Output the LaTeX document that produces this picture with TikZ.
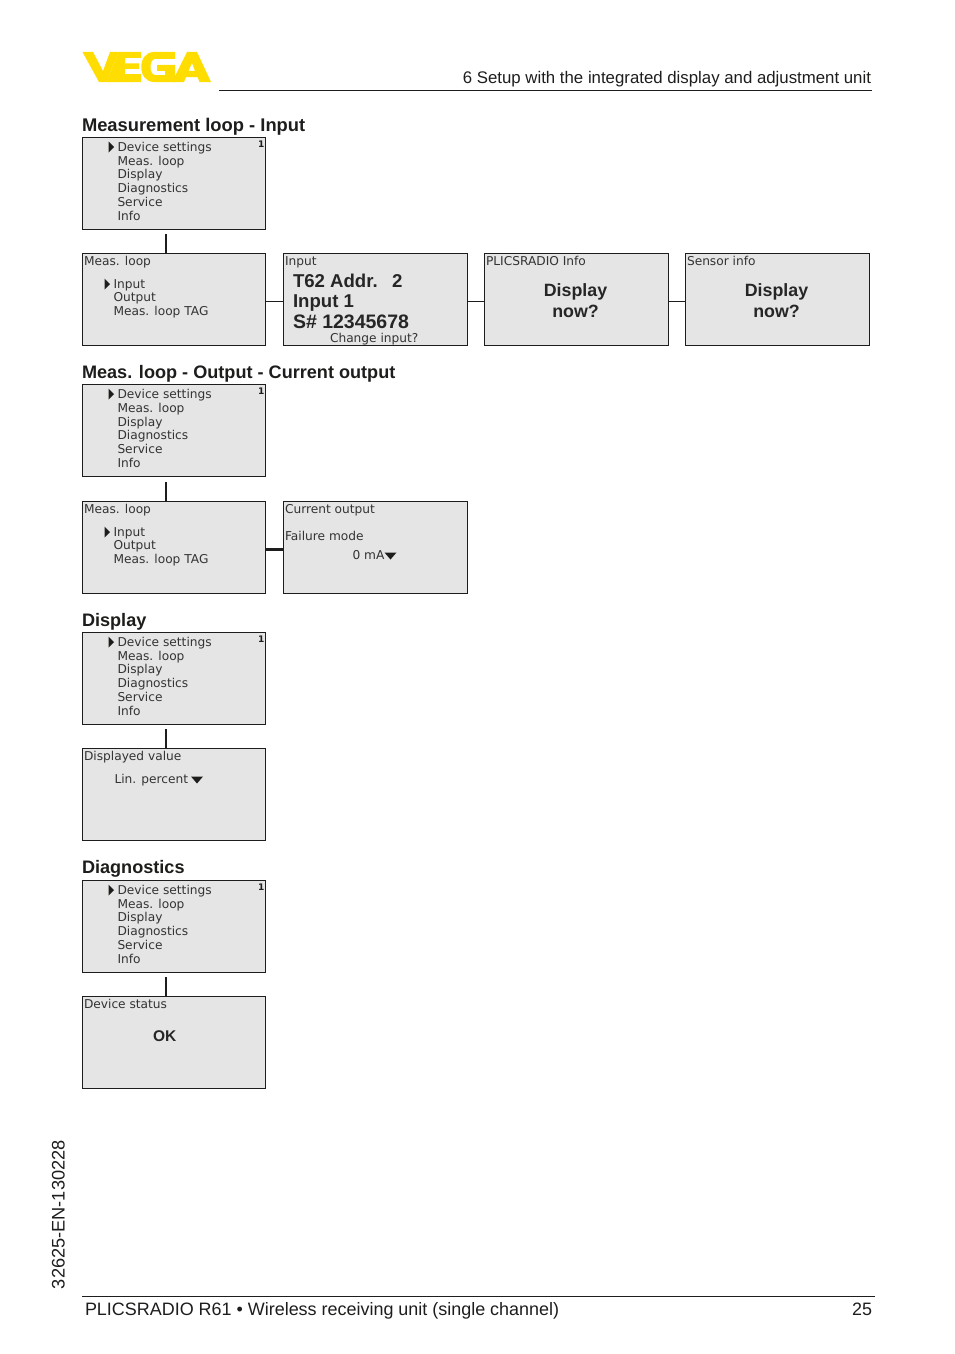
\documentclass[tikz,border=0pt]{standalone}
\usepackage{fontspec}
\setmainfont{Liberation Sans}
\newfontfamily\lcd{DejaVu Sans}
\definecolor{lcdgray}{HTML}{E5E5E5}
\definecolor{ink}{HTML}{1D1D1B}
\definecolor{vegay}{HTML}{FFDD00}
\tikzset{
 x=1pt,y=-1pt,
 panel/.style={draw=ink,line width=1.3pt,fill=lcdgray,minimum width=183pt,minimum height=92pt,inner sep=0pt,outer sep=0pt,anchor=north west},
 wide/.style={minimum width=184pt},
 txt/.style={inner sep=0pt,outer sep=0pt,anchor=base west,text=ink},
 small/.style={txt,font=\lcd\fontsize{12.2}{14}\selectfont,text=black!80},
 big/.style={txt,font=\bfseries\fontsize{18.6}{20}\selectfont,text=black!85},
 head/.style={txt,font=\bfseries\fontsize{18.1}{22}\selectfont},
 page/.style={txt,font=\fontsize{16.8}{21}\selectfont},
 foot/.style={txt,font=\fontsize{17.95}{21}\selectfont},
 link/.style={draw=ink,line width=1.8pt},
 rulel/.style={draw=ink,line width=0.9pt},
}
% main menu panel: name, top y
\newcommand{\mainmenu}[2]{%
 \node[panel] (#1) at (82.5,#2) {};
 \node[small] (#1a) at (117.5,#2+14) {Device settings};
 \node[small] (#1b) at (117.5,#2+27.7) {Meas. loop};
 \node[small] (#1c) at (117.5,#2+41.4) {Display};
 \node[small] (#1d) at (117.5,#2+55.1) {Diagnostics};
 \node[small] (#1e) at (117.5,#2+68.8) {Service};
 \node[small] (#1f) at (117.5,#2+82.5) {Info};
 \node[txt,font=\lcd\bfseries\fontsize{9}{10}\selectfont] (#1n) at (258,#2+9.5) {1};
 \fill[ink] (108.5,#2+4) -- (114,#2+9.5) -- (108.5,#2+15) -- cycle;
}
% measurement loop panel
\newcommand{\looppanel}[2]{%
 \node[panel] (#1) at (82.5,#2) {};
 \node[small] (#1a) at (84,#2+11.5) {Meas. loop};
 \node[small] (#1b) at (113.5,#2+34.5) {Input};
 \node[small] (#1c) at (113.5,#2+48.2) {Output};
 \node[small] (#1d) at (113.5,#2+61.9) {Meas. loop TAG};
 \fill[ink] (104.5,#2+25) -- (110,#2+30.5) -- (104.5,#2+36) -- cycle;
}
\begin{document}
\begin{tikzpicture}
\useasboundingbox (0,0) rectangle (954,1354);
% logo
\fill[vegay] (82.5,52) -- (93,52) -- (103,71) -- (110,52) -- (119,52) -- (106,82) -- (99,82) -- cycle;
\fill[vegay] (119,52) -- (141,52) -- (141,58) -- (125,58) -- (125,63.5) -- (139,63.5) -- (139,69) -- (125,69) -- (125,74) -- (141,74) -- (141,82) -- (106,82) -- cycle;
\fill[vegay] (175,52) -- (175,59) -- (155,59) .. controls (149,59) and (149,75) .. (155,75) -- (165,75) -- (165,71) -- (157,71) -- (157,65) -- (175,65) -- (175,82) -- (154,82) .. controls (137,82) and (137,52) .. (154,52) -- cycle;
\fill[vegay,even odd rule] (172,82) -- (187,52) -- (197,52) -- (211,82) -- (199.5,82) -- (197.5,77) -- (186,77) -- (184,82) -- cycle (188.5,71) -- (195,71) -- (192,63) -- cycle;
% header
\coordinate (hl) at (219,90.5);
\coordinate (hr) at (872,90.5);
\draw[rulel] (hl) -- (hr);
\node[page,anchor=base east] (htext) at (871,83) {6 Setup with the integrated display and adjustment unit};
% section 1
\node[head,font=\bfseries\fontsize{18.35}{22}\selectfont] (h1) at (82,131) {Measurement loop - Input};
\mainmenu{ma}{137.5}
\looppanel{la}{253.5}
\node[panel,wide] (inp) at (283.5,253.5) {};
\node[small] (inpa) at (285,265) {Input};
\node[big] (inpb) at (293,287) {T62 Addr.};
\node[big] (inpc) at (392,287) {2};
\node[big] (inpd) at (293,307.5) {Input 1};
\node[big,font=\bfseries\fontsize{19.5}{20}\selectfont] (inpe) at (293,328) {S\# 12345678};
\node[small] (inpf) at (330,342) {Change input?};
\node[panel,wide] (pl) at (484.5,253.5) {};
\node[small] (pla) at (486,265) {PLICSRADIO Info};
\node[big,anchor=base,font=\bfseries\fontsize{17.8}{20}\selectfont] (plb) at (575.5,296) {Display};
\node[big,anchor=base,font=\bfseries\fontsize{17.8}{20}\selectfont] (plc) at (575.5,317) {now?};
\node[panel,wide] (se) at (685.5,253.5) {};
\node[small] (sea) at (687,265) {Sensor info};
\node[big,anchor=base,font=\bfseries\fontsize{17.8}{20}\selectfont] (seb) at (776.5,296) {Display};
\node[big,anchor=base,font=\bfseries\fontsize{17.8}{20}\selectfont] (sec) at (776.5,317) {now?};
\coordinate (j1) at (166,234);
\draw[link] (j1) -- (j1 |- la.north);
\draw[link] ([yshift=-2pt]la.east) -- ([yshift=-2pt]inp.west);
\draw[link] ([yshift=-2pt]inp.east) -- ([yshift=-2pt]pl.west);
\draw[link] ([yshift=-2pt]pl.east) -- ([yshift=-2pt]se.west);
% section 2
\node[head] (h2) at (82,378) {Meas. loop - Output - Current output};
\mainmenu{mb}{384.6}
\looppanel{lb}{501.5}
\node[panel,wide] (cu) at (283.5,501.5) {};
\node[small] (cua) at (285,513) {Current output};
\node[small] (cub) at (285,540) {Failure mode};
\node[small] (cuc) at (352.5,559) {0 mA};
\fill[ink] (384.5,552.5) -- (396.5,552.5) -- (390.5,559.5) -- cycle;
\coordinate (j2) at (166,482);
\draw[link] (j2) -- (j2 |- lb.north);
\draw[link,line width=2.4pt] ([yshift=-2pt]lb.east) -- ([yshift=-2pt]cu.west);
% section 3
\node[head] (h3) at (82,626) {Display};
\mainmenu{mc}{632.5}
\node[panel] (dv) at (82.5,748.5) {};
\node[small] (dva) at (84,760) {Displayed value};
\node[small] (dvb) at (114.5,783) {Lin. percent};
\fill[ink] (191,776.5) -- (203,776.5) -- (197,783.5) -- cycle;
\coordinate (j3) at (166,729);
\draw[link] (j3) -- (j3 |- dv.north);
% section 4
\node[head] (h4) at (82,873) {Diagnostics};
\mainmenu{md}{880.5}
\node[panel] (ds) at (82.5,996.5) {};
\node[small] (dsa) at (84,1008) {Device status};
\node[big,font=\bfseries\fontsize{15.5}{18}\selectfont] (dsb) at (153,1041) {OK};
\coordinate (j4) at (166,977);
\draw[link] (j4) -- (j4 |- ds.north);
% footer
\coordinate (fl) at (82,1296.5);
\coordinate (fr) at (875,1296.5);
\draw[rulel] (fl) -- (fr);
\node[foot] (ft) at (85,1315) {PLICSRADIO R61 • Wireless receiving unit (single channel)};
\node[page,anchor=base east,font=\fontsize{17.95}{21}\selectfont] (fp) at (872,1315) {25};
\node[foot,rotate=90,font=\fontsize{18.2}{21}\selectfont] (doc) at (64.5,1289) {32625-EN-130228};
\end{tikzpicture}
\end{document}
